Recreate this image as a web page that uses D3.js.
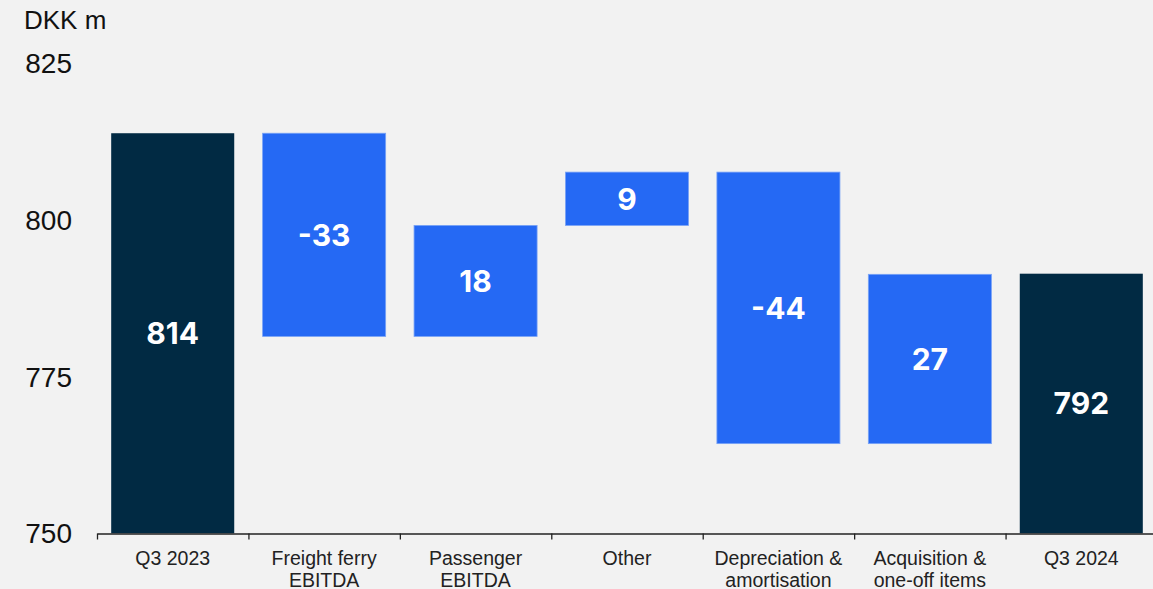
<!DOCTYPE html>
<html>
<head>
<meta charset="utf-8">
<script src="https://cdn.jsdelivr.net/npm/d3@7"></script>
<style>
  html, body { margin: 0; padding: 0; background: #f2f2f2; }
  svg { display: block; }
  .tick-y text { font-family: 'Liberation Sans', Arial, sans-serif; font-size: 28px; fill: #111; }
  .cat-axis text { font-family: 'Liberation Sans', Arial, sans-serif; font-size: 19.5px; fill: #222; }
  .bar-label { font-family: 'Inter', 'Roboto', sans-serif; font-weight: 700; font-size: 30px; fill: #fff; }
</style>
</head>
<body>
<div id="chart"></div>
<script>
// categories (multi-line tick labels)
const categories = [
  ['Q3 2023'],
  ['Freight ferry', 'EBITDA'],
  ['Passenger', 'EBITDA'],
  ['Other'],
  ['Depreciation &', 'amortisation'],
  ['Acquisition &', 'one-off items'],
  ['Q3 2024'],
];
const kinds = ['total', 'delta', 'delta', 'delta', 'delta', 'delta', 'total'];
// values (labels are the rounded figures)
const barValues = [813.8, -32.4, 17.7, 8.5, -43.3, 27.0, 791.4];
const barLabels = ['814', '-33', '18', '9', '-44', '27', '792'];
const yTicks = [750, 775, 800, 825];

const width = 1153;
const height = 589;
const colors = { total: '#012a43', delta: '#2569f4' };

const svg = d3
  .select('#chart')
  .append('svg')
  .attr('width', width)
  .attr('height', height);

svg.append('rect').attr('width', width).attr('height', height).attr('fill', '#f2f2f2');

const keys = categories.map((c) => c.join(' '));
const x = d3
  .scaleBand()
  .domain(keys)
  .range([97, 1157])
  .paddingInner(0.1875)
  .paddingOuter(0.09375);
const xEdge = d3.scaleLinear().domain([0, keys.length]).range([97, 1157]);
const y = d3.scaleLinear().domain([750, 825]).range([533.3, 63]);

// waterfall start/end
let run = 0;
const bars = barValues.map((v, i) => {
  let lo, hi;
  if (kinds[i] === 'total') {
    lo = 750;
    hi = v;
    run = v;
  } else {
    const next = run + v;
    lo = Math.min(run, next);
    hi = Math.max(run, next);
    run = next;
  }
  return { key: keys[i], kind: kinds[i], lo, hi, label: barLabels[i] };
});

// title
svg
  .append('text')
  .attr('x', 24)
  .attr('y', 29)
  .style('font-family', "'Liberation Sans', Arial, sans-serif")
  .style('font-size', '26px')
  .attr('fill', '#111')
  .text('DKK m');

// y axis labels
const yAxis = svg
  .append('g')
  .attr('class', 'tick-y')
  .attr('transform', 'translate(72,0)')
  .call(d3.axisLeft(y).tickValues(yTicks).tickSize(0).tickPadding(0));
yAxis.select('.domain').remove();
yAxis.selectAll('text').attr('dy', '0.34em');

// bars
svg
  .selectAll('.bar')
  .data(bars)
  .enter()
  .append('rect')
  .attr('class', 'bar')
  .attr('x', (d) => x(d.key))
  .attr('width', x.bandwidth())
  .attr('y', (d) => y(d.hi))
  .attr('height', (d) => y(d.lo) - y(d.hi))
  .attr('fill', (d) => colors[d.kind])
  .attr('stroke', (d) => (d.kind === 'delta' ? '#78a2f6' : 'none'))
  .attr('stroke-width', 0.8);

svg
  .selectAll('.bar-label')
  .data(bars)
  .enter()
  .append('text')
  .attr('class', 'bar-label')
  .attr('x', (d) => x(d.key) + x.bandwidth() / 2)
  .attr('y', (d) => (y(d.lo) + y(d.hi)) / 2)
  .attr('dy', '0.36em')
  .attr('text-anchor', 'middle')
  .text((d) => d.label);

// x axis: line + boundary ticks
svg
  .append('g')
  .attr('transform', 'translate(0,533.5)')
  .call(
    d3
      .axisBottom(xEdge)
      .tickValues(d3.range(keys.length + 1))
      .tickFormat('')
      .tickSize(6)
      .tickSizeOuter(0),
  )
  .call((g) => g.selectAll('path, line').attr('stroke', '#222').attr('stroke-width', 1.3));

// category labels
const catAxis = svg
  .append('g')
  .attr('class', 'cat-axis')
  .attr('transform', 'translate(0,533.5)')
  .call(d3.axisBottom(x).tickSize(0).tickPadding(0));
catAxis.select('.domain').remove();
catAxis.selectAll('text').each(function(k) {
  const lines = categories[keys.indexOf(k)];
  const t = d3.select(this).text(null).attr('y', 0).attr('dy', null);
  lines.forEach((line, i) => {
    t.append('tspan')
      .attr('x', 0)
      .attr('y', 31.5 + i * 22)
      .text(line);
  });
});
</script>
</body>
</html>
